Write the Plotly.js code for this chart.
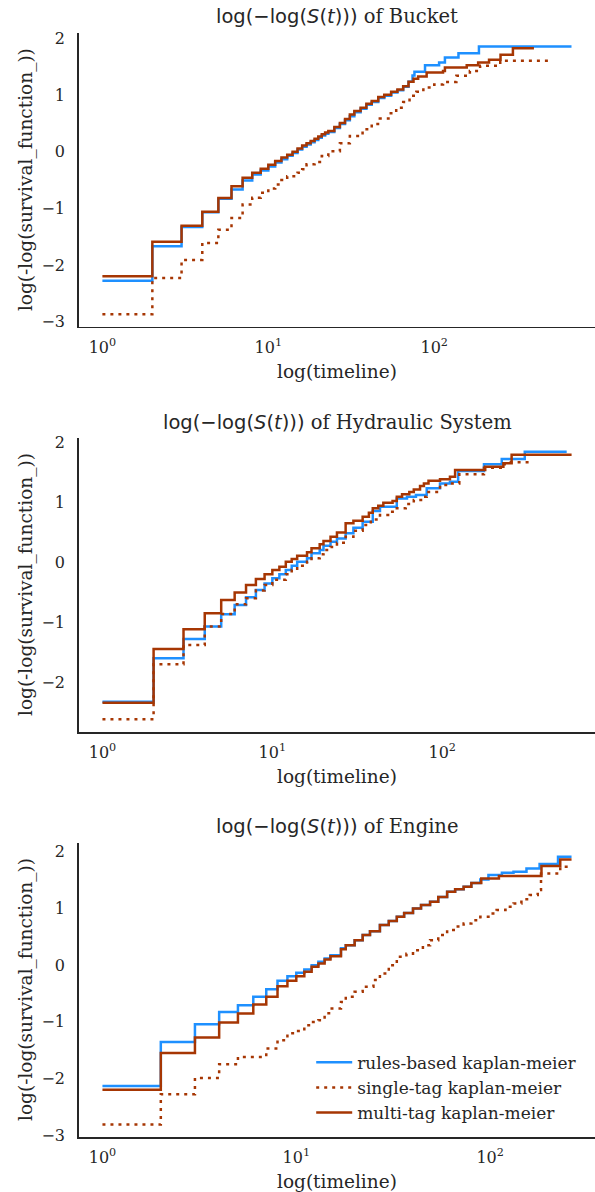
<!DOCTYPE html>
<html><head><meta charset="utf-8">
<script src="https://cdn.plot.ly/plotly-3.0.1.min.js"></script>
<style>html,body{margin:0;padding:0;background:#fff}</style>
</head><body>
<div id="chart" style="width:595px;height:1192px"></div>
<script>
// ---------- Bucket ----------
const bucketRulesT = [1,2,3,4,5,6,7,8,9,10,11,12,13,14,15,16,17,18,19,20,21,22,23,25,27,29,31,33,36,39,42,46,50,55,60,65,70,74,76,88,107,116,140,186,672];
const bucketRulesY = [-2.28,-1.67,-1.33,-1.07,-0.83,-0.667,-0.507,-0.40,-0.33,-0.26,-0.19,-0.13,-0.07,-0.02,0.04,0.09,0.13,0.17,0.21,0.25,0.29,0.32,0.35,0.42,0.49,0.56,0.63,0.70,0.76,0.83,0.88,0.95,0.99,1.05,1.09,1.15,1.24,1.35,1.413,1.53,1.58,1.668,1.74,1.863,1.863];
const bucketSingleT = [1,2,3,4,5,6,7,8,9,10,11,12,13,15,16,17,19,21,23,27,31,37,42,47,53,59,65,71,78,86,100,113,136,164,189,250,498];
const bucketSingleY = [-2.87,-2.23,-1.91,-1.61,-1.376,-1.17,-0.93,-0.81,-0.725,-0.65,-0.578,-0.50,-0.43,-0.37,-0.31,-0.22,-0.18,-0.076,0.01,0.15,0.28,0.40,0.49,0.587,0.68,0.78,0.88,0.99,1.06,1.137,1.19,1.236,1.343,1.43,1.52,1.61,1.61];
const bucketMultiT = [1,2,3,4,5,6,7,8,9,10,11,12,13,14,15,16,17,18,19,20,21,22,23,25,27,29,31,33,36,39,42,46,50,55,60,65,70,75,80,90,113,116,157,184,214,251,298,399];
const bucketMultiY = [-2.20,-1.59,-1.305,-1.057,-0.815,-0.607,-0.46,-0.37,-0.30,-0.23,-0.16,-0.10,-0.05,0.00,0.06,0.11,0.15,0.19,0.23,0.27,0.31,0.34,0.37,0.44,0.51,0.58,0.66,0.72,0.78,0.85,0.90,0.97,1.01,1.06,1.10,1.16,1.24,1.29,1.33,1.40,1.43,1.49,1.53,1.58,1.626,1.715,1.83,1.83];

// ---------- Hydraulic System ----------
const hydRulesT = [1,2,3,4,5,6,7,8,9,10,11,12,13,14,16,17,19,20,22,24,27,30,34,39,43,54,62,70,81,97,111,124,176,224,306,540];
const hydRulesY = [-2.33,-1.60,-1.28,-1.07,-0.866,-0.71,-0.58,-0.46,-0.35,-0.265,-0.198,-0.125,-0.053,0.013,0.07,0.154,0.209,0.28,0.348,0.40,0.488,0.58,0.682,0.86,0.933,1.07,1.10,1.13,1.24,1.32,1.35,1.53,1.642,1.73,1.853,1.853];
const hydSingleT = [1,2,3,4,5,6,7,8,9,10,12,13,14,16,17,19,20,22,24,27,30,34,38,43,48,54,61,68,75,81,97,111,126,176,233,330];
const hydSingleY = [-2.62,-1.70,-1.38,-1.07,-0.86,-0.70,-0.60,-0.47,-0.376,-0.29,-0.198,-0.125,-0.053,0.013,0.07,0.136,0.209,0.26,0.33,0.43,0.53,0.627,0.72,0.794,0.85,0.906,0.98,1.045,1.10,1.18,1.296,1.32,1.475,1.585,1.675,1.675];
const hydMultiT = [1,2,3,4,5,6,7,8,9,10,11,12,13,14,16,17,19,20,22,24,27,30,34,37,39,42,45,51,54,58,64,68,74,78,83,97,111,119,179,229,256,577];
const hydMultiY = [-2.345,-1.446,-1.117,-0.85,-0.627,-0.50,-0.376,-0.276,-0.198,-0.125,-0.07,0.013,0.058,0.114,0.17,0.237,0.304,0.36,0.43,0.50,0.655,0.70,0.766,0.83,0.906,0.95,1.0,1.028,1.10,1.14,1.18,1.22,1.28,1.32,1.368,1.39,1.435,1.547,1.60,1.658,1.80,1.80];

// ---------- Engine ----------
const engRulesT = [1,2,3,4,5,6,7,8,9,10,11,12,13,14,15,17,18,20,22,24,27,30,33,36,40,44,49,54,60,66,73,80,89,98,115,132,154,180,224,263];
const engRulesY = [-2.13,-1.353,-1.04,-0.824,-0.706,-0.559,-0.424,-0.277,-0.194,-0.135,-0.076,0.0,0.059,0.118,0.176,0.30,0.353,0.44,0.53,0.60,0.706,0.78,0.853,0.92,1.0,1.06,1.118,1.20,1.294,1.34,1.382,1.45,1.512,1.588,1.63,1.647,1.706,1.782,1.91,1.91];
const engSingleT = [1,2,3,4,5,7,8,9,10,11,12,13,14,15,17,18,20,22,25,27,30,33,37,40,45,49,54,60,66,73,80,89,98,108,120,132,145,160,176,183,230,258];
const engSingleY = [-2.81,-2.277,-1.99,-1.747,-1.618,-1.47,-1.324,-1.20,-1.16,-1.06,-1.0,-0.97,-0.85,-0.765,-0.65,-0.559,-0.47,-0.382,-0.26,-0.147,0.0,0.147,0.20,0.265,0.35,0.441,0.53,0.618,0.68,0.735,0.79,0.853,0.91,0.971,1.03,1.088,1.16,1.235,1.324,1.618,1.735,1.735];
const engMultiT = [1,2,3,4,5,6,7,8,9,10,11,12,13,14,15,17,18,20,22,24,27,30,33,36,40,44,49,54,60,66,73,80,90,111,184,230,263];
const engMultiY = [-2.195,-1.547,-1.277,-1.012,-0.853,-0.694,-0.559,-0.37,-0.277,-0.194,-0.118,-0.029,0.029,0.10,0.159,0.28,0.353,0.44,0.53,0.60,0.706,0.78,0.853,0.92,1.0,1.06,1.118,1.20,1.294,1.34,1.382,1.45,1.53,1.571,1.747,1.865,1.865];

const seriesNames = ['rules-based kaplan-meier','single-tag kaplan-meier','multi-tag kaplan-meier'];
const panelNames = ['Bucket','Hydraulic System','Engine'];
const xTickVals = [1,10,100];
const xTickText = ['10<sup>0</sup>','10<sup>1</sup>','10<sup>2</sup>'];

const BLUE = '#1E90FF', BROWN = '#A63603', INK = '#262626';
const FONT = 'DejaVu Serif';

function tr(x, y, i, color, dash, n, show) {
  const s = n === 1 ? '' : String(n);
  return {x: x, y: y, name: seriesNames[i], type: 'scatter', mode: 'lines',
    line: {shape: 'hv', color: color, width: 2.5, dash: dash},
    xaxis: 'x' + s, yaxis: 'y' + s, showlegend: show, hoverinfo: 'skip'};
}
const DOT = '3px,5px';
const data = [
  tr(bucketRulesT, bucketRulesY, 0, BLUE, 'solid', 1, false),
  tr(bucketSingleT, bucketSingleY, 1, BROWN, DOT, 1, false),
  tr(bucketMultiT, bucketMultiY, 2, BROWN, 'solid', 1, false),
  tr(hydRulesT, hydRulesY, 0, BLUE, 'solid', 2, false),
  tr(hydSingleT, hydSingleY, 1, BROWN, DOT, 2, false),
  tr(hydMultiT, hydMultiY, 2, BROWN, 'solid', 2, false),
  tr(engRulesT, engRulesY, 0, BLUE, 'solid', 3, true),
  tr(engSingleT, engSingleY, 1, BROWN, DOT, 3, true),
  tr(engMultiT, engMultiY, 2, BROWN, 'solid', 3, true)
];

function xax(anchor, range) {
  return {type: 'log', range: range, anchor: anchor, domain: [0, 1],
    tickmode: 'array', tickvals: xTickVals, ticktext: xTickText,
    showline: true, linecolor: INK, linewidth: 1.8, showgrid: false, zeroline: false,
    ticks: '', ticklabelstandoff: 5,
    tickfont: {family: FONT, size: 16, color: INK}};
}
function yax(anchor, domain, range) {
  return {anchor: anchor, domain: domain, range: range, tick0: 0, dtick: 1,
    showline: true, linecolor: INK, linewidth: 1.8, showgrid: false, zeroline: false,
    ticks: '', ticklabelstandoff: 9,
    tickfont: {family: FONT, size: 16, color: INK}};
}

const titleY = [1.0145, 0.647, 0.2811];
const xTitleY = [0.693, 0.3264, -0.0405];
const yTitleY = [0.8668, 0.5, 0.1332];
const annotations = [];
for (let k = 0; k < 3; k++) {
  annotations.push({xref: 'paper', yref: 'paper', x: 0.5, y: titleY[k], showarrow: false,
    xanchor: 'center', yanchor: 'middle',
    text: '<span style="font-family:DejaVu Sans">log(\u2212log(<i>S</i>(<i>t</i>)))</span> of ' + panelNames[k],
    font: {family: FONT, size: 19.5, color: INK}});
  annotations.push({xref: 'paper', yref: 'paper', x: 0.5, y: xTitleY[k], showarrow: false,
    xanchor: 'center', yanchor: 'middle', text: 'log(timeline)',
    font: {family: FONT, size: 18.5, color: INK}});
  annotations.push({xref: 'paper', yref: 'paper', x: -0.1027, y: yTitleY[k], showarrow: false,
    xanchor: 'center', yanchor: 'middle', textangle: -90, text: 'log(-log(survival_function_))',
    font: {family: FONT, size: 18.5, color: INK}});
}

const layout = {
  width: 595, height: 1192,
  margin: {l: 79, r: 0, t: 33, b: 55, pad: 0},
  paper_bgcolor: '#fff', plot_bgcolor: '#fff',
  font: {family: FONT, color: INK},
  xaxis: xax('y', [-0.141, 2.969]),
  yaxis: yax('x', [0.734, 1], [-3.09, 2.10]),
  xaxis2: xax('y2', [-0.138, 2.899]),
  yaxis2: yax('x2', [0.3671, 0.6329], [-2.83, 2.077]),
  xaxis3: xax('y3', [-0.121, 2.541]),
  yaxis3: yax('x3', [0, 0.266], [-3.03, 2.148]),
  showlegend: true,
  legend: {x: 0.45, y: 0.0835, xanchor: 'left', yanchor: 'top',
    bgcolor: 'rgba(0,0,0,0)', borderwidth: 0, itemwidth: 36,
    font: {family: FONT, size: 17, color: INK}},
  annotations: annotations
};

Plotly.newPlot('chart', data, layout, {staticPlot: true, displayModeBar: false});
</script>
</body></html>
